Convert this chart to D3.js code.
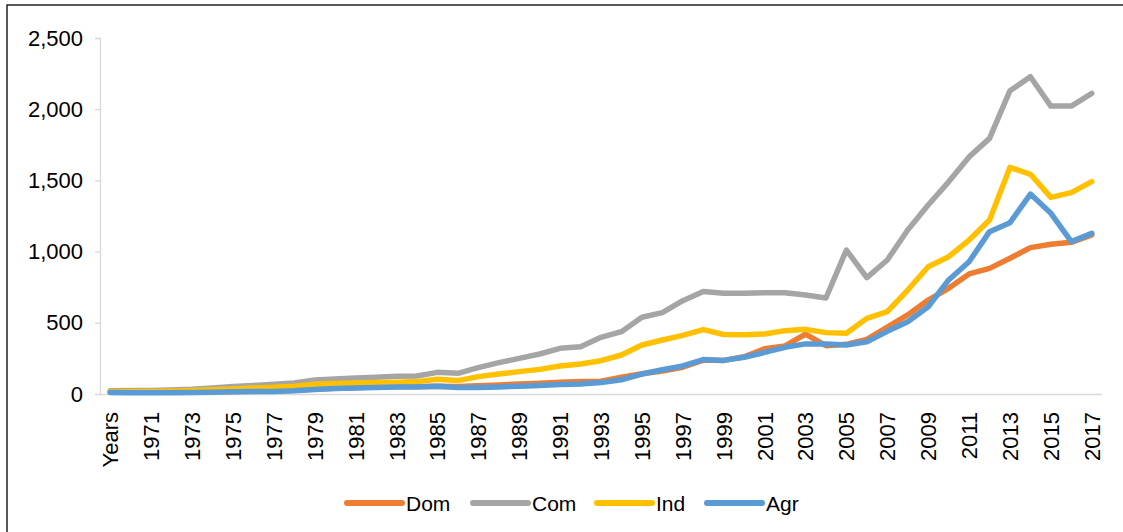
<!DOCTYPE html>
<html>
<head>
<meta charset="utf-8">
<script src="https://cdn.jsdelivr.net/npm/d3@7"></script>
<style>
  html, body { margin: 0; padding: 0; background: #fff; }
  svg { display: block; font-family: "Liberation Sans", Arial, sans-serif; }
</style>
</head>
<body>
<svg id="chart" width="1123" height="532"></svg>
<script>
const categories = ["Years", "1970", "1971", "1972", "1973", "1974", "1975", "1976", "1977", "1978",
  "1979", "1980", "1981", "1982", "1983", "1984", "1985", "1986", "1987", "1988",
  "1989", "1990", "1991", "1992", "1993", "1994", "1995", "1996", "1997", "1998",
  "1999", "2000", "2001", "2002", "2003", "2004", "2005", "2006", "2007", "2008",
  "2009", "2010", "2011", "2012", "2013", "2014", "2015", "2016", "2017"];

const dom = [12, 12, 12, 13, 14, 16, 18, 20, 22, 26,
  35, 40, 45, 50, 52, 53, 55, 52, 58, 63,
  70, 75, 82, 87, 90, 118, 142, 162, 188, 238,
  236, 262, 318, 338, 421, 339, 349, 384, 470, 555,
  660, 742, 843, 882, 953, 1028, 1051, 1065, 1117];

const com = [23, 24, 25, 28, 33, 42, 52, 60, 68, 78,
  98, 105, 112, 118, 124, 126, 152, 145, 185, 220,
  250, 281, 321, 332, 398, 438, 539, 571, 655, 720,
  707, 707, 711, 711, 695, 674, 1011, 817, 941, 1152,
  1327, 1490, 1665, 1795, 2130, 2228, 2022, 2022, 2111];

const ind = [17, 17, 18, 20, 25, 30, 35, 42, 48, 55,
  68, 73, 77, 80, 82, 87, 103, 94, 122, 140,
  157, 173, 197, 211, 234, 274, 344, 379, 412, 452,
  418, 416, 421, 445, 454, 431, 426, 531, 578, 730,
  894, 964, 1081, 1222, 1592, 1543, 1381, 1414, 1491];

const agr = [10, 8, 8, 8, 10, 12, 15, 17, 17, 22,
  32, 38, 42, 46, 50, 50, 54, 46, 45, 50,
  55, 60, 66, 70, 80, 100, 140, 170, 197, 242,
  236, 258, 292, 328, 352, 351, 344, 367, 440, 508,
  613, 801, 929, 1140, 1203, 1404, 1269, 1070, 1128];

const seriesNames = ["Dom", "Com", "Ind", "Agr"];
const seriesColors = ["#ED7D31", "#A5A5A5", "#FFC000", "#5B9BD5"];
const yTicks = [0, 500, 1000, 1500, 2000, 2500];

const series = [dom, com, ind, agr].map((vals, i) => ({ name: seriesNames[i], color: seriesColors[i], values: vals }));

const svg = d3.select("#chart");

// outer frame (top and left edges visible)
svg.append("rect")
  .attr("x", 7).attr("y", 5)
  .attr("width", 1300).attr("height", 700)
  .attr("fill", "none").attr("stroke", "#000").attr("stroke-width", 1.3);

const x = d3.scalePoint().domain(categories).range([100, 1102]).padding(0.5);
const y = d3.scaleLinear().domain([0, 2500]).range([394, 38]);

// Y axis
const yAxis = d3.axisLeft(y).tickValues(yTicks).tickFormat(d3.format(",")).tickSize(5).tickPadding(12);
const gy = svg.append("g").attr("transform", "translate(100,0)").call(yAxis);
gy.select(".domain").attr("stroke", "#D9D9D9").attr("stroke-width", 1.3);
gy.selectAll(".tick line").attr("stroke", "#D9D9D9").attr("stroke-width", 1.3);
gy.selectAll(".tick text").attr("fill", "#000").style("font-size", "22px")
  .style("font-family", "'Liberation Sans', Arial, sans-serif");

// X axis
const xLabels = categories.filter((d, i) => i % 2 === 0);
const xAxis = d3.axisBottom(x).tickValues(xLabels).tickSize(0).tickSizeOuter(0);
const gx = svg.append("g").attr("transform", "translate(0,394)").call(xAxis);
gx.select(".domain").attr("stroke", "#D9D9D9").attr("stroke-width", 1.3)
  .attr("d", "M100,0.5H1102");
gx.selectAll(".tick text")
  .attr("fill", "#000")
  .style("font-size", "22px")
  .style("font-family", "'Liberation Sans', Arial, sans-serif")
  .attr("text-anchor", "end")
  .attr("dy", null)
  .attr("y", 0)
  .attr("transform", "translate(0,18) rotate(-90)")
  .attr("dominant-baseline", "central")
  .attr("x", 0);

// lines
const line = d3.line()
  .x((d, i) => x(categories[i]))
  .y(d => y(d));

svg.append("g").selectAll("path")
  .data(series)
  .join("path")
  .attr("d", d => line(d.values))
  .attr("fill", "none")
  .attr("stroke", d => d.color)
  .attr("stroke-width", 5.5)
  .attr("stroke-linejoin", "round")
  .attr("stroke-linecap", "round");

// legend
const legendX = [347, 473, 597, 707];
const legend = svg.append("g");
series.forEach((s, i) => {
  const lx = legendX[i];
  legend.append("line")
    .attr("x1", lx).attr("x2", lx + 55)
    .attr("y1", 503).attr("y2", 503)
    .attr("stroke", s.color).attr("stroke-width", 6)
    .attr("stroke-linecap", "round");
  legend.append("text")
    .attr("x", lx + 59).attr("y", 503)
    .attr("dominant-baseline", "central")
    .style("font-size", "21px")
    .attr("fill", "#000")
    .text(s.name);
});
</script>
</body>
</html>
